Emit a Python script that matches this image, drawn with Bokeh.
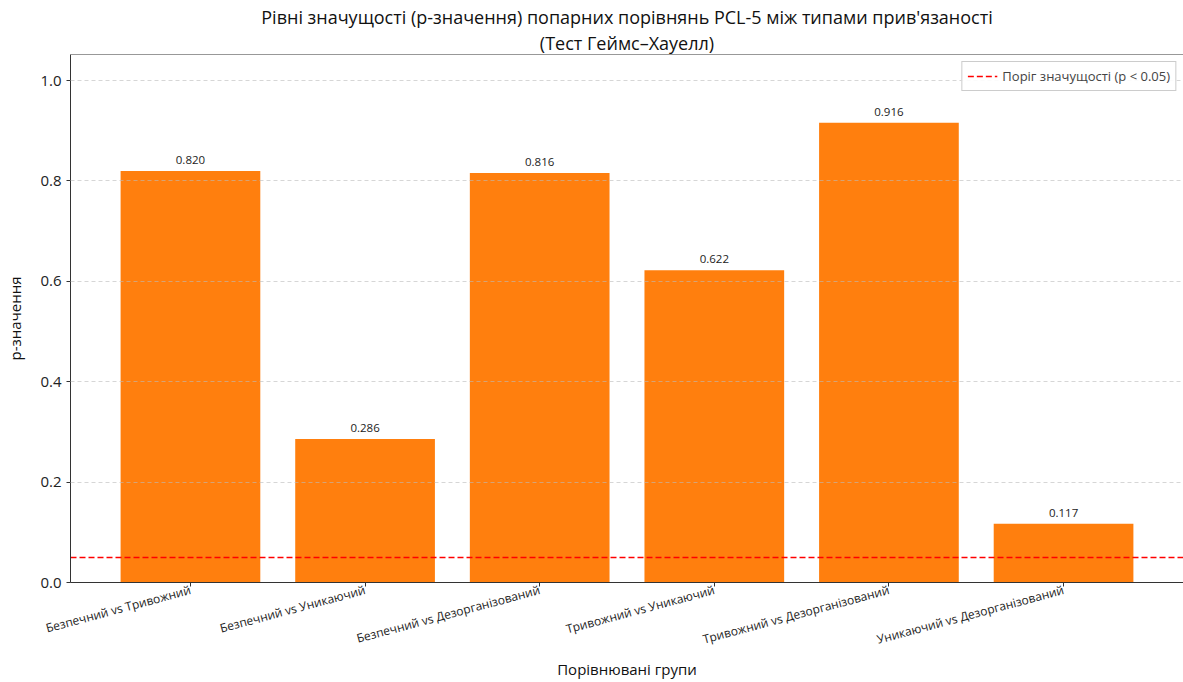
from bokeh.plotting import figure
from bokeh.models import (FactorRange, ColumnDataSource, LabelSet, Range1d, FixedTicker,
                          Legend, LegendItem, Title, NumeralTickFormatter, Span)
from bokeh.core.properties import value
from bokeh.embed import file_html
from bokeh.resources import INLINE
import math

groups = [
    "Безпечний vs Тривожний",
    "Безпечний vs Уникаючий",
    "Безпечний vs Дезорганізований",
    "Тривожний vs Уникаючий",
    "Тривожний vs Дезорганізований",
    "Уникаючий vs Дезорганізований",
]
p_values = [0.820, 0.286, 0.816, 0.622, 0.916, 0.117]
threshold = 0.05
y_ticks = [0.0, 0.2, 0.4, 0.6, 0.8, 1.0]
title_lines = ["Рівні значущості (p-значення) попарних порівнянь PCL-5 між типами прив'язаності",
               "(Тест Геймс–Хауелл)"]

FONT = "Open Sans"

src = ColumnDataSource(dict(g=groups, p=p_values, lbl=[f"{v:.3f}" for v in p_values]))

p = figure(
    x_range=FactorRange(factors=groups, range_padding=0.0623, range_padding_units="percent"),
    y_range=Range1d(0, 1.052),
    width=1183, height=682,
    output_backend="svg", toolbar_location=None,
    min_border_left=70, min_border_right=0, min_border_top=54, min_border_bottom=100,
)
p.title = None

p.vbar(x="g", top="p", width=0.8, source=src, color="#ff7f0e", line_color=None)

thr = p.hspan(y=[threshold], line_color="red", line_width=1.6, line_dash="6 3")

labels = LabelSet(x="g", y="p", text="lbl", source=src, text_align="center",
                  text_baseline="bottom", y_offset=7, text_font_size="11.5px",
                  text_font=value(FONT), text_color="#222222")
p.add_layout(labels)

p.xgrid.visible = False
p.ygrid.grid_line_color = "#bbbbbb"
p.ygrid.grid_line_alpha = 0.6
p.ygrid.grid_line_dash = "4 3"
p.ygrid.level = "overlay"

p.yaxis.ticker = FixedTicker(ticks=y_ticks)
p.yaxis.formatter = NumeralTickFormatter(format="0.0")

xax = p.below[0]
yax = p.left[0]
for ax in (xax, yax):
    ax.axis_line_color = "#333333"
    ax.major_tick_line_color = "#333333"
    ax.minor_tick_line_color = None
    ax.major_tick_out = 4
    ax.major_tick_in = 0
    ax.major_label_text_font = FONT
    ax.major_label_text_color = "#222222"
    ax.axis_label_text_font = FONT
    ax.axis_label_text_font_style = "normal"
    ax.axis_label_text_font_size = "15px"
    ax.axis_label_text_color = "#111111"

yax.major_label_text_font_size = "15px"
yax.axis_label_standoff = 12
xax.major_label_text_font_size = "12px"
xax.major_label_orientation = math.radians(15)
xax.major_label_standoff = 3
xax.axis_label_standoff = 0
xax.axis_label = "Порівнювані групи"
yax.axis_label = "p-значення"

# top spine
p.add_layout(Span(location=p.y_range.end, dimension="width", line_color="#333333", line_width=1))

for i, t in enumerate(reversed(title_lines)):
    p.add_layout(Title(text=t, align="center", text_font=FONT, text_font_size="18px",
                       text_font_style="normal", text_color="#111111",
                       standoff=0), "above")

p.outline_line_color = None

legend = Legend(items=[LegendItem(label="Поріг значущості (p < 0.05)", renderers=[thr])],
                location="top_right")
legend.label_text_font = FONT
legend.label_text_font_size = "13px"
legend.border_line_color = "#cccccc"
legend.border_line_alpha = 1
legend.background_fill_alpha = 0.9
legend.glyph_width = 30
legend.glyph_height = 16
legend.padding = 5
legend.margin = 7
legend.spacing = 0
p.add_layout(legend)

open("out.html", "w").write(file_html(p, INLINE))
